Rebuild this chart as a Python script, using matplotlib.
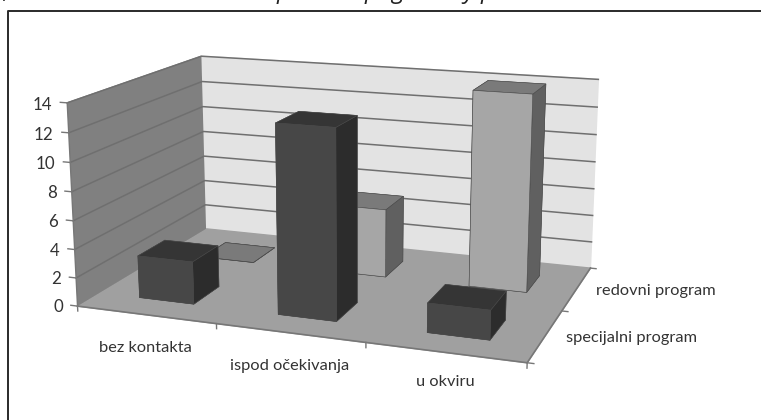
#!/usr/bin/python3
import matplotlib
matplotlib.use('Agg')
import numpy as np
from matplotlib import pyplot as plt
from matplotlib.lines import Line2D
from mpl_toolkits.mplot3d import proj3d

WIDTH_PX = 761
HEIGHT_PX = 420

categories = ['bez kontakta', 'ispod očekivanja', 'u okviru']
series_names = ['specijalni program', 'redovni program']
specijalni = [3, 13, 2]
redovni = [0, 5, 14]
z_ticks = [0, 2, 4, 6, 8, 10, 12, 14]

BAR_W = 0.4
FONT = 'Lato'
LABEL_SIZE = 11.8
TEXT_COL = '#333333'
GRID_COL = '#6f6f6f'
EDGE_COL = '#777777'
DARK_FACES = ['#333333', '#353535', '#474747', '#474747', '#2c2c2c', '#2c2c2c']
LIGHT_FACES = ['#777777', '#7a7a7a', '#a6a6a6', '#a6a6a6', '#606060', '#606060']
CAT_DROP_PX = [33, 33, 30]

# camera found with a small fit on the wall and floor corners
ELEV, AZIM, ROLL, FOCAL = 14.436, -69.82, 0.136, 0.483
BOX = (1, 0.651, 0.451)
SCALE = 2998.8
Q_MEAN = np.array([-0.0066, -0.0035])
P_MEAN = np.array([324.0, 219.3])

fig = plt.figure(figsize=(WIDTH_PX / 100, HEIGHT_PX / 100), dpi=100)
ax = fig.add_axes([0, 0, 1, 1], projection='3d')
ax.view_init(ELEV, AZIM, ROLL)
ax.set_proj_type('persp', focal_length=FOCAL)
ax.set_box_aspect(BOX)
ax.set_xlim(0, 3)
ax.set_ylim(0, 2)
ax.set_zlim(0, 14)
ax.computed_zorder = False
ax.patch.set_visible(False)
ax.grid(False)
ax.set_xticks([])
ax.set_yticks([])
ax.set_zticks([])

# walls and floor
for axis, col in [(ax.xaxis, '#808080'), (ax.yaxis, '#e3e3e3'), (ax.zaxis, '#a0a0a0')]:
    axis.set_pane_color(col)
    axis.pane.set_edgecolor(col)
    axis.line.set_color((0, 0, 0, 0))

# grid lines on both walls
for v in z_ticks[1:]:
    ax.plot([0, 0, 3], [0, 2, 2], [v, v, v], color=GRID_COL, lw=1.1, zorder=1)

# axis lines and ticks
ax.plot([0, 3, 3], [0, 0, 2], [0, 0, 0], color=EDGE_COL, lw=1.2, zorder=2)
ax.plot([0, 0], [0, 0], [0, 14], color=EDGE_COL, lw=1.0, zorder=2)
for v in z_ticks:
    ax.plot([-0.05, 0], [0, 0], [v, v], color=EDGE_COL, lw=1.0, zorder=2)
for i in range(len(categories) + 1):
    ax.plot([i, i], [0, 0], [0, -0.35], color=EDGE_COL, lw=1.0, zorder=2)
for j in range(len(series_names) + 1):
    ax.plot([3, 3.04], [j, j], [0, 0], color=EDGE_COL, lw=1.0, zorder=2)

# bars
xpos, ypos, heights, faces = [], [], [], []
for j, (vals, cols) in enumerate([(specijalni, DARK_FACES), (redovni, LIGHT_FACES)]):
    for i, v in enumerate(vals):
        xpos.append(i + (1 - BAR_W) / 2)
        ypos.append(j + (1 - BAR_W) / 2)
        heights.append(v)
        faces.extend(cols)
ax.bar3d(xpos, ypos, np.zeros(len(xpos)), BAR_W, BAR_W, heights, color=faces,
         shade=False, edgecolor='#4a4a4a', linewidth=0.4, zorder=3)

# put the axes where the camera fit wants them
ax.apply_aspect()
lo, hi = ax.transData.transform([[0, 0], [1, 1]])
cur_scale = hi[0] - lo[0]
old_px = ax.get_position().width * WIDTH_PX
new_px = old_px * SCALE / cur_scale
q_center = (np.array([WIDTH_PX / 2, HEIGHT_PX / 2]) - lo) / cur_scale
center = P_MEAN - SCALE * (Q_MEAN - q_center)
ax.set_position([(center[0] - new_px / 2) / WIDTH_PX, (center[1] - new_px / 2) / HEIGHT_PX,
                 new_px / WIDTH_PX, new_px / HEIGHT_PX])
ax.apply_aspect()


def label_3d(x, y, z, s, dy_px=0, size=LABEL_SIZE, **kw):
    # labels go on the figure, at the spot where the 3d point lands
    qx, qy, _ = proj3d.proj_transform(x, y, z, ax.get_proj())
    px, py = ax.transData.transform((qx, qy))
    fig.text(px / WIDTH_PX, (py - dy_px) / HEIGHT_PX, s, family=FONT, fontsize=size,
             color=TEXT_COL, va='center', **kw)


for v in z_ticks:
    label_3d(-0.11, 0, v, str(v), dy_px=3, size=12.2, ha='right')
for i, name in enumerate(categories):
    label_3d(i + 0.5, 0, 0, name, dy_px=CAT_DROP_PX[i], ha='center')
for j, name in enumerate(series_names):
    label_3d(3.13, j + 0.5, 0, name, ha='left')

# the frame, only top and left are in the scan
fig.add_artist(Line2D([8 / WIDTH_PX, 8 / WIDTH_PX, 1], [0, 1 - 11 / HEIGHT_PX, 1 - 11 / HEIGHT_PX],
                      color='#2a2a2a', lw=1.4))

# cut off line of text above the frame, only the descenders show
for px, ch in [(3, ','), (277, 'p'), (365, 'p'), (391, 'g'), (463, 'y'), (481, 'p')]:
    fig.text(px / WIDTH_PX, 1 + 2 / HEIGHT_PX, ch, family='Open Sans', style='italic',
             fontsize=17, va='baseline', color='#222222')

fig.savefig('out.png', dpi=100)
